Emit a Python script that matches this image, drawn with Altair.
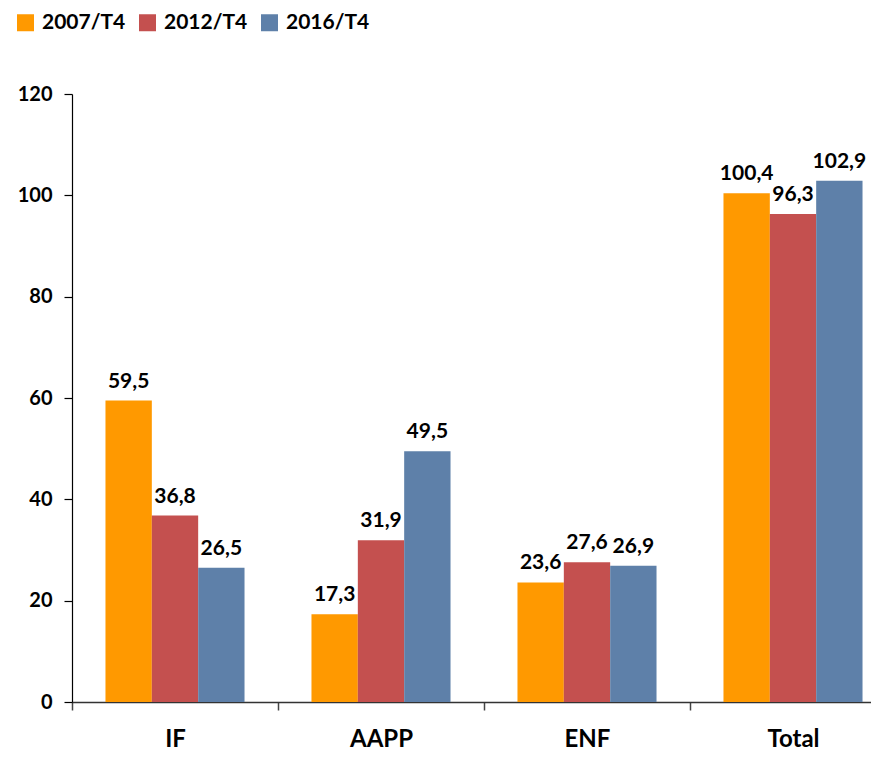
import altair as alt
import pandas as pd

categories = ["IF", "AAPP", "ENF", "Total"]
series = ["2007/T4", "2012/T4", "2016/T4"]
v2007 = [59.5, 17.3, 23.6, 100.4]
v2012 = [36.8, 31.9, 27.6, 96.3]
v2016 = [26.5, 49.5, 26.9, 102.9]
colors = ["#FF9900", "#C4504F", "#5E80A9"]

rows = []
for s, vals in zip(series, [v2007, v2012, v2016]):
    for c, v in zip(categories, vals):
        rows.append({"cat": c, "serie": s, "v": v, "lab": f"{v:.1f}".replace(".", ",")})
df = pd.DataFrame(rows)
dcat = pd.DataFrame({"cat": categories})

FONT = "Lato"
STEP = 206
P_IN = 0.325
RANGE = [0, STEP * 4]

def bar_x():
    return alt.X("cat:N", sort=categories, title=None, axis=None,
                 scale=alt.Scale(range=RANGE, paddingInner=P_IN, paddingOuter=P_IN / 2))

xo = alt.XOffset("serie:N", sort=series, scale=alt.Scale(paddingInner=0, paddingOuter=0))
y = alt.Y("v:Q", title=None,
          scale=alt.Scale(domain=[0, 120], nice=False),
          axis=alt.Axis(values=[0, 20, 40, 60, 80, 100, 120], grid=False, labelFont=FONT,
                        labelFontSize=20, labelFontWeight="bold", labelColor="black",
                        labelPadding=12, tickSize=8, tickColor="black", domainColor="black",
                        domainWidth=1.2, tickWidth=1.2))

bars = alt.Chart(df).mark_bar().encode(
    x=bar_x(), xOffset=xo, y=y,
    color=alt.Color("serie:N", sort=series, scale=alt.Scale(domain=series, range=colors),
                    legend=alt.Legend(title=None, orient="none", legendX=-57, legendY=-82,
                                      direction="horizontal", symbolType="square",
                                      symbolSize=289, symbolStrokeWidth=0, labelFont=FONT,
                                      labelFontSize=21, labelFontWeight="bold",
                                      labelColor="black", labelOffset=6, columnPadding=11))
)

text = alt.Chart(df).mark_text(font=FONT, fontSize=21, fontWeight="bold", color="black",
                               baseline="alphabetic", dy=-13).encode(
    x=bar_x(), xOffset=xo, y="v:Q", text="lab:N"
)

axis_layer = alt.Chart(dcat).mark_point(opacity=0).encode(
    x=alt.X("cat:N", sort=categories, title=None,
            scale=alt.Scale(range=RANGE, paddingInner=0, paddingOuter=0),
            axis=alt.Axis(labelAngle=0, labelFont=FONT, labelFontSize=24, labelFontWeight="bold",
                          labelColor="black", labelBaseline="alphabetic", labelPadding=36,
                          tickBand="extent", tickSize=8, tickColor="#444", domainColor="#333",
                          domainWidth=1.5, tickWidth=1.5)),
    y=alt.value(0),
)

chart = alt.layer(alt.layer(bars, text), axis_layer).resolve_scale(x="independent").properties(
    width=799, height=608,
    autosize=alt.AutoSizeParams(type="none"),
    padding={"left": 64, "top": 86, "right": 0, "bottom": 48},
).configure_view(stroke=None)

chart.save("out.html", embed_options={"renderer": "svg", "actions": False})
